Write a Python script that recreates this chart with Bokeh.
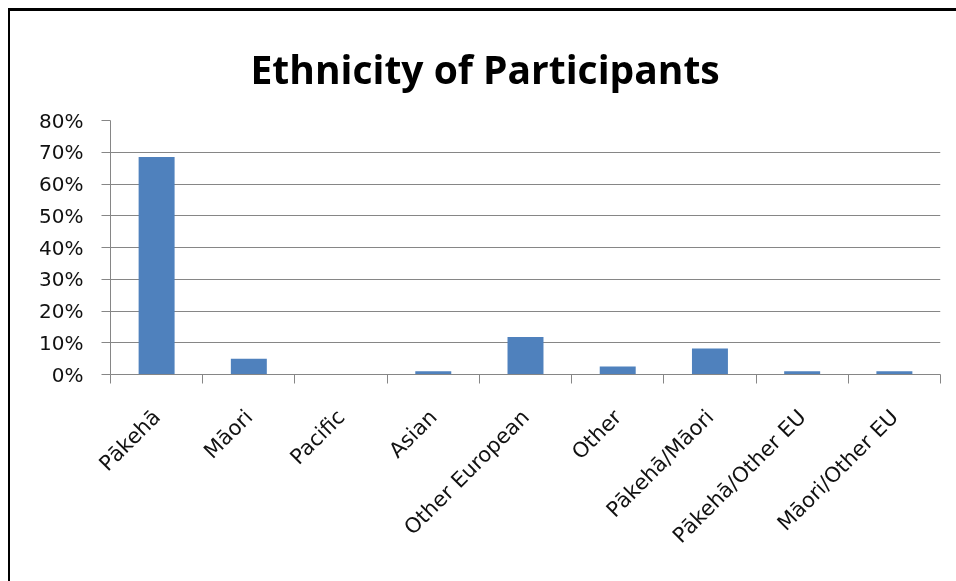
import math
from bokeh.plotting import figure
from bokeh.models import Range1d, FixedTicker, NumeralTickFormatter, ColumnDataSource
from bokeh.embed import file_html
from bokeh.resources import INLINE

categories = ["Pākehā", "Māori", "Pacific", "Asian", "Other European", "Other",
              "Pākehā/Māori", "Pākehā/Other EU", "Māori/Other EU"]
shares = [0.685, 0.05, 0.0, 0.01, 0.118, 0.025, 0.082, 0.01, 0.01]
y_ticks = [0.0, 0.1, 0.2, 0.3, 0.4, 0.5, 0.6, 0.7, 0.8]
title_text = "Ethnicity of Participants"

pos = [i + 0.5 for i in range(len(categories))]
src = ColumnDataSource(dict(x=pos, top=shares, name=categories))

GRAY = "#868686"
p = figure(width=960, height=585, output_backend="svg", toolbar_location=None,
           x_range=Range1d(0, len(categories)), y_range=Range1d(0, 0.8),
           min_border_left=100, min_border_right=30, min_border_top=109,
           min_border_bottom=222, title=title_text)
p.styles = {"position": "fixed", "left": "10px", "top": "11px",
            "box-shadow": "-2px -3px 0 0 black"}
p.outline_line_color = None
p.background_fill_color = "white"
p.border_fill_color = "white"

p.title.text_font = "Open Sans"
p.title.text_font_size = "39px"
p.title.text_font_style = "bold"
p.title.text_color = "black"
p.title.align = "left"
p.title.offset = 140
p.title.standoff = 52

p.vbar(x="x", top="top", width=0.39, bottom=0, source=src,
       fill_color="#4F81BD", line_color=None)

# grid
p.xgrid.visible = False
p.ygrid.ticker = FixedTicker(ticks=y_ticks)
p.ygrid.grid_line_color = GRAY
p.ygrid.grid_line_width = 1

# y axis
ya = p.yaxis[0]
ya.ticker = FixedTicker(ticks=y_ticks)
ya.formatter = NumeralTickFormatter(format="0%")
ya.axis_line_color = GRAY
ya.major_tick_line_color = GRAY
ya.major_tick_out = 9
ya.major_tick_in = 0
ya.minor_tick_out = 0
ya.minor_tick_in = 0
ya.major_label_standoff = 18
ya.major_label_text_font = "DejaVu Sans"
ya.major_label_text_font_size = "20px"
ya.major_label_text_color = "#111111"

# x axis
xa = p.xaxis[0]
xa.ticker = FixedTicker(ticks=pos, minor_ticks=list(range(len(categories) + 1)))
xa.major_label_overrides = {pv: c for pv, c in zip(pos, categories)}
xa.major_label_orientation = math.pi / 4
xa.axis_line_color = GRAY
xa.major_tick_out = 0
xa.major_tick_in = 0
xa.minor_tick_line_color = GRAY
xa.minor_tick_out = 9
xa.minor_tick_in = 0
xa.major_label_standoff = 30
xa.major_label_text_font = "DejaVu Sans"
xa.major_label_text_font_size = "21px"
xa.major_label_text_color = "#111111"

open("out.html", "w").write(file_html(p, INLINE))
